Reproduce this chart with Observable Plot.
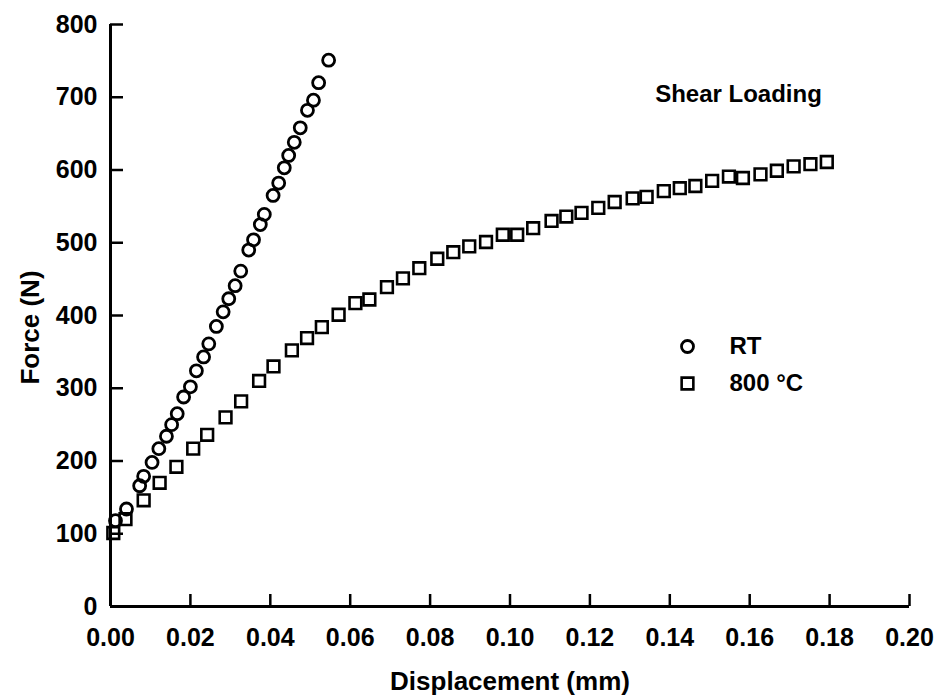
<!DOCTYPE html>
<html>
<head>
<meta charset="utf-8">
<script src="https://cdn.jsdelivr.net/npm/d3@7"></script>
<script src="https://cdn.jsdelivr.net/npm/@observablehq/plot@0.6"></script>
<style>
  html, body { margin: 0; padding: 0; background: #fff; }
  #chart svg { display: block; }
</style>
</head>
<body>
<div id="chart"></div>
<script>
// RT series (circles)
const rtDisp = [0.00125, 0.004, 0.0073, 0.0083, 0.0104, 0.0121, 0.014, 0.0153, 0.0167, 0.0183,
  0.020, 0.0215, 0.0233, 0.0246, 0.0265, 0.0282, 0.0296, 0.0312, 0.0326, 0.0346,
  0.0358, 0.0375, 0.0385, 0.0407, 0.0421, 0.0435, 0.0446, 0.046, 0.0475, 0.0493,
  0.0508, 0.0521, 0.0546];
const rtForce = [118, 134, 166, 179, 198, 217, 234, 250, 265, 288,
  302, 324, 343, 361, 385, 405, 423, 441, 461, 490,
  504, 525, 539, 565, 582, 603, 620, 638, 658, 682,
  696, 720, 751];

// 800 °C series (squares)
const hotDisp = [0.0007, 0.00375, 0.0083, 0.0123, 0.0165, 0.0207, 0.0242, 0.0288, 0.0327, 0.0372,
  0.0408, 0.0454, 0.0492, 0.0529, 0.0571, 0.0613, 0.0648, 0.0692, 0.0732, 0.0773,
  0.0818, 0.0858, 0.0898, 0.094, 0.0982, 0.1018, 0.1058, 0.1104, 0.1141, 0.1179,
  0.1221, 0.1262, 0.1307, 0.1342, 0.1385, 0.1425, 0.1464, 0.1506, 0.1548, 0.1583,
  0.1627, 0.1668, 0.171, 0.1752, 0.1793];
const hotForce = [101, 120, 146, 170, 192, 217, 236, 260, 282, 310,
  330, 352, 369, 384, 401, 417, 422, 439, 451, 465,
  478, 487, 495, 501, 511, 511, 520, 530, 536, 541,
  548, 556, 561, 563, 571, 575, 578, 585, 591, 589,
  594, 599, 605, 608, 611];

const xTicks = [0, 0.02, 0.04, 0.06, 0.08, 0.10, 0.12, 0.14, 0.16, 0.18, 0.20];
const yTicks = [0, 100, 200, 300, 400, 500, 600, 700, 800];

const seriesNames = ["RT", "800 °C"];
const xTitle = "Displacement (mm)";
const yTitle = "Force (N)";
const annotation = "Shear Loading";

const rt = rtDisp.map((d, i) => ({x: d, y: rtForce[i]}));
const hot = hotDisp.map((d, i) => ({x: d, y: hotForce[i]}));

const font = "Liberation Sans, Arial, sans-serif";

const chart = Plot.plot({
  width: 938,
  height: 697,
  marginLeft: 110,
  marginRight: 29,
  marginTop: 24,
  marginBottom: 91,
  style: {fontFamily: font, fontWeight: "bold", fontSize: "24px", color: "#000", background: "#fff"},
  x: {domain: [0, 0.2]},
  y: {domain: [0, 800]},
  marks: [
    // tick marks pointing inward
    Plot.axisX({ticks: xTicks, tickSize: 12, text: null, dy: -12, strokeWidth: 2.5, label: null}),
    Plot.axisY({ticks: yTicks, tickSize: 13, text: null, dx: 13, strokeWidth: 2.5, label: null}),
    // tick labels
    Plot.axisX({ticks: xTicks, tickSize: 0, tickPadding: 22, tickFormat: d => d.toFixed(2), label: null, fontSize: 25}),
    Plot.axisY({ticks: yTicks, tickSize: 0, tickPadding: 13, tickFormat: d => String(d), label: null, fontSize: 25}),
    // axis lines
    Plot.ruleX([0], {stroke: "#000", strokeWidth: 3}),
    Plot.ruleY([0], {stroke: "#000", strokeWidth: 3}),
    // data
    Plot.dot(rt, {x: "x", y: "y", symbol: "circle", r: 6, stroke: "#000", strokeWidth: 2.8, fill: "none"}),
    Plot.dot(hot, {x: "x", y: "y", symbol: "square", r: 6.6, stroke: "#000", strokeWidth: 2.6, fill: "none"}),
    // axis titles
    Plot.text([xTitle], {frameAnchor: "bottom", dy: 75, text: d => d, fontSize: 26, fontWeight: "bold", textAnchor: "middle", lineAnchor: "middle", fill: "#000"}),
    Plot.text([yTitle], {frameAnchor: "left", dx: -80, dy: 12, rotate: -90, text: d => d, fontSize: 26, fontWeight: "bold", textAnchor: "middle", lineAnchor: "middle", fill: "#000"}),
    // annotation
    Plot.text([annotation], {frameAnchor: "top-right", dx: -171, dy: 70, text: d => d, fontSize: 24, fontWeight: "bold", textAnchor: "middle", lineAnchor: "middle", fill: "#000"}),
    // legend
    Plot.dot([seriesNames[0]], {frameAnchor: "top-left", dx: 577, dy: 322, symbol: "circle", r: 6, stroke: "#000", strokeWidth: 2.8, fill: "none"}),
    Plot.dot([seriesNames[1]], {frameAnchor: "top-left", dx: 577, dy: 359, symbol: "square", r: 6.6, stroke: "#000", strokeWidth: 2.6, fill: "none"}),
    Plot.text([seriesNames[0]], {frameAnchor: "top-left", dx: 619, dy: 322, text: d => d, fontSize: 24, fontWeight: "bold", textAnchor: "start", lineAnchor: "middle", fill: "#000"}),
    Plot.text([seriesNames[1]], {frameAnchor: "top-left", dx: 619, dy: 359, text: d => d, fontSize: 24, fontWeight: "bold", textAnchor: "start", lineAnchor: "middle", fill: "#000"})
  ]
});

document.getElementById("chart").appendChild(chart);
</script>
</body>
</html>
